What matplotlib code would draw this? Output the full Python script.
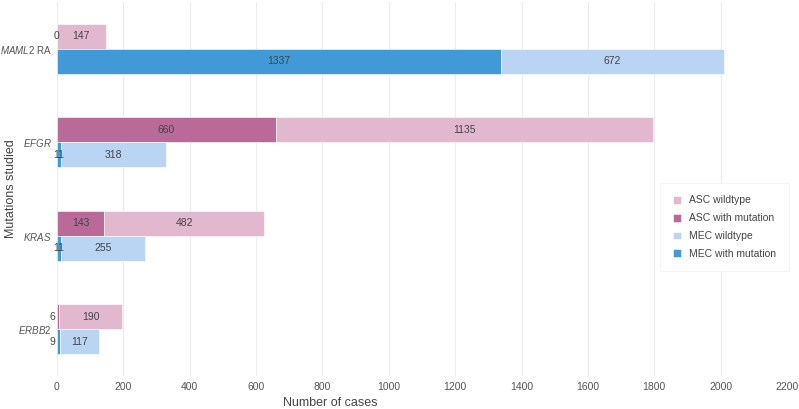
import matplotlib
matplotlib.use("Agg")
import matplotlib.pyplot as plt
import numpy as np

plt.rcParams['font.family'] = ['Liberation Sans', 'DejaVu Sans']
plt.rcParams['mathtext.fontset'] = 'custom'
plt.rcParams['mathtext.it'] = 'Liberation Sans:italic'
plt.rcParams['mathtext.rm'] = 'Liberation Sans'

# data, top to bottom
genes = [r"$\mathit{MAML2}$ RA", r"$\mathit{EFGR}$", r"$\mathit{KRAS}$", r"$\mathit{ERBB2}$"]
asc_mutation = [0, 660, 143, 6]
asc_wildtype = [147, 1135, 482, 190]
mec_mutation = [1337, 11, 11, 9]
mec_wildtype = [672, 318, 255, 117]

x_ticks = [0, 200, 400, 600, 800, 1000, 1200, 1400, 1600, 1800, 2000, 2200]

col_asc_wt = '#e2b8cf'
col_asc_mut = '#b96a98'
col_mec_wt = '#b9d5f3'
col_mec_mut = '#4199d5'
text_col = '#444444'

fig = plt.figure(figsize=(7.99, 4.09), dpi=100)
ax = fig.add_axes([57 / 799, 1 - 376 / 409, 730 / 799, 374 / 409])

y = np.arange(len(genes))
h = 0.27
y_asc = y - h / 2
y_mec = y + h / 2

ax.barh(y_asc, asc_mutation, height=h, color=col_asc_mut, label='ASC with mutation',
        edgecolor='white', linewidth=0.4)
ax.barh(y_asc, asc_wildtype, left=asc_mutation, height=h, color=col_asc_wt,
        label='ASC wildtype', edgecolor='white', linewidth=0.4)
ax.barh(y_mec, mec_mutation, height=h, color=col_mec_mut, label='MEC with mutation',
        edgecolor='white', linewidth=0.4)
ax.barh(y_mec, mec_wildtype, left=mec_mutation, height=h, color=col_mec_wt,
        label='MEC wildtype', edgecolor='white', linewidth=0.4)


def put_labels(ypos, first, second):
    for yy, a, b in zip(ypos, first, second):
        if 0 < a < 10:
            ax.text(-4, yy, str(a), ha='right', va='center', fontsize=7.5, color=text_col)
        else:
            ax.text(a / 2, yy, str(a), ha='center', va='center', fontsize=7.5, color=text_col)
        ax.text(a + b / 2, yy, str(b), ha='center', va='center', fontsize=7.5, color=text_col)


put_labels(y_asc, asc_mutation, asc_wildtype)
put_labels(y_mec, mec_mutation, mec_wildtype)

ax.set_xlim(0, 2200)
ax.set_ylim(len(genes) - 0.5, -0.5)
ax.set_xticks(x_ticks)
ax.set_yticks(y)
ax.set_yticklabels(genes)
ax.tick_params(axis='both', length=0, labelsize=7.5, labelcolor='#555555')
ax.tick_params(axis='x', pad=4)
ax.tick_params(axis='y', pad=4, labelsize=7)

ax.grid(axis='x', color='#ececec', linewidth=0.8)
ax.set_axisbelow(True)
for s in ax.spines.values():
    s.set_visible(False)

ax.set_xlabel('Number of cases', fontsize=9, color=text_col)
ax.xaxis.set_label_coords(0.374, -0.056)
ax.set_ylabel('Mutations studied', fontsize=9, color=text_col)
ax.yaxis.set_label_coords(-0.055, 0.5)

handles, labels = ax.get_legend_handles_labels()
order = [1, 0, 3, 2]
leg = ax.legend([handles[i] for i in order], [labels[i] for i in order],
                loc='upper left', bbox_to_anchor=(0.819, 0.53), fontsize=7.5,
                frameon=True, fancybox=False, framealpha=1, edgecolor='#f2f2f2',
                handlelength=0.8, handleheight=0.8, handletextpad=0.8,
                labelspacing=0.75, borderpad=1.2, labelcolor=text_col)
leg.get_frame().set_linewidth(0.6)

fig.savefig('out.png', dpi=100)
